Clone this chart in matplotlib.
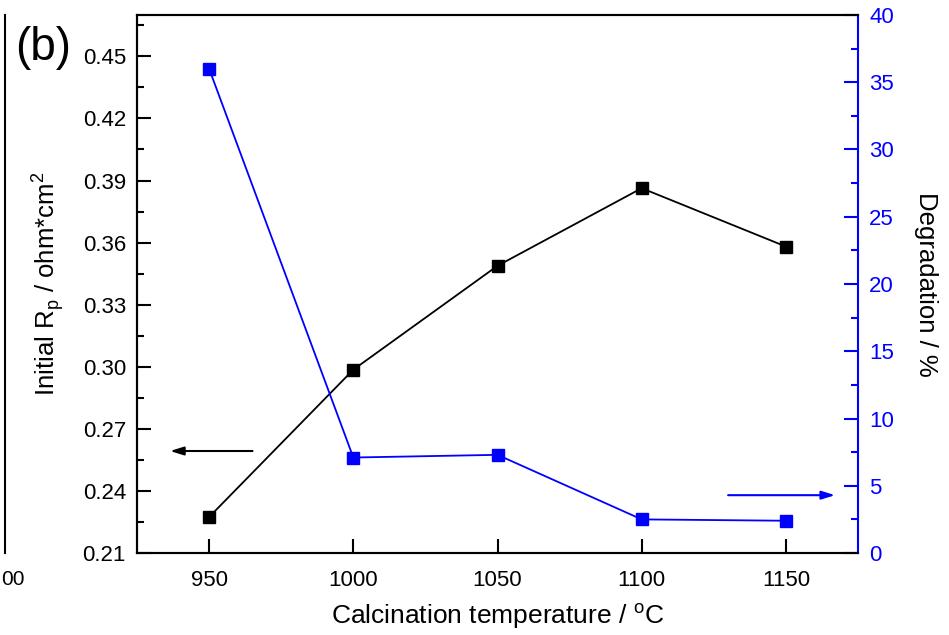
import matplotlib
matplotlib.use("Agg")
import matplotlib.pyplot as plt
from matplotlib.ticker import MultipleLocator

plt.rcParams['font.family'] = ['Liberation Sans', 'DejaVu Sans']

temperature = [950, 1000, 1050, 1100, 1150]
initial_rp = [0.2274, 0.2986, 0.3488, 0.3863, 0.3581]
degradation = [36.0, 7.1, 7.3, 2.5, 2.4]

BLUE = '#0000ff'

fig = plt.figure(figsize=(9.49, 6.35), dpi=100)
ax = fig.add_axes([0.1444, 0.1291, 0.7597, 0.8473])
ax2 = ax.twinx()

ax.plot(temperature, initial_rp, color='black', lw=1.3, marker='s', ms=8,
        mfc='black', mec='black', zorder=3)
ax2.plot(temperature, degradation, color=BLUE, lw=1.3, marker='s', ms=8,
         mfc=BLUE, mec=BLUE, zorder=3)

ax.set_xlim(925, 1175)
ax.set_ylim(0.21, 0.47)
ax2.set_ylim(0, 40)

ax.xaxis.set_major_locator(MultipleLocator(50))
ax.yaxis.set_major_locator(MultipleLocator(0.03))
ax.yaxis.set_minor_locator(MultipleLocator(0.015))
ax2.yaxis.set_major_locator(MultipleLocator(5))
ax2.yaxis.set_minor_locator(MultipleLocator(2.5))
ax.yaxis.set_major_formatter(matplotlib.ticker.FormatStrFormatter('%.2f'))

ax.tick_params(axis='x', direction='in', length=10, width=1.5, labelsize=16,
               pad=12, top=False, colors='black')
ax.tick_params(axis='y', which='major', direction='in', length=10, width=1.5,
               labelsize=16, pad=8, right=False)
ax.tick_params(axis='y', which='minor', direction='in', length=5, width=1.5, right=False)
ax2.tick_params(axis='y', which='major', direction='in', length=10, width=1.5,
                labelsize=16, pad=8, colors=BLUE, left=False)
ax2.tick_params(axis='y', which='minor', direction='in', length=5, width=1.5,
                colors=BLUE, left=False)

for sp in ['left', 'bottom', 'top']:
    ax.spines[sp].set_linewidth(1.5)
    ax2.spines[sp].set_linewidth(1.5)
ax2.spines['right'].set_color(BLUE)
ax2.spines['right'].set_linewidth(1.5)
ax.spines['right'].set_visible(False)

ax.set_xlabel('Calcination temperature / $^{\\mathregular{o}}$C', fontsize=19, labelpad=8)
ax.set_ylabel('Initial R$_{\\mathregular{p}}$ / ohm*cm$^{\\mathregular{2}}$', fontsize=18.5, labelpad=12)
ax2.set_ylabel('Degradation / %', fontsize=18.5, rotation=-90, labelpad=32, color='black')

ax.annotate('', xy=(935.5, 0.2593), xytext=(966, 0.2593),
            arrowprops=dict(arrowstyle='-|>,head_length=0.8,head_width=0.25',
                            color='black', lw=1.5))
ax2.annotate('', xy=(1168, 4.3), xytext=(1129, 4.3),
             arrowprops=dict(arrowstyle='-|>,head_length=0.8,head_width=0.25',
                             color=BLUE, lw=1.5))

fig.text(0.016, 0.925, '(b)', fontsize=33, ha='left', va='center')

# remnant of neighbouring panel at the left edge
fig.add_artist(plt.Line2D([0.0055, 0.0055], [0.1291, 0.9764], color='black', lw=1.5,
                          transform=fig.transFigure))
fig.text(0.001, 0.088, '00', fontsize=15, ha='left', va='center')

fig.savefig('out.png', dpi=100)
